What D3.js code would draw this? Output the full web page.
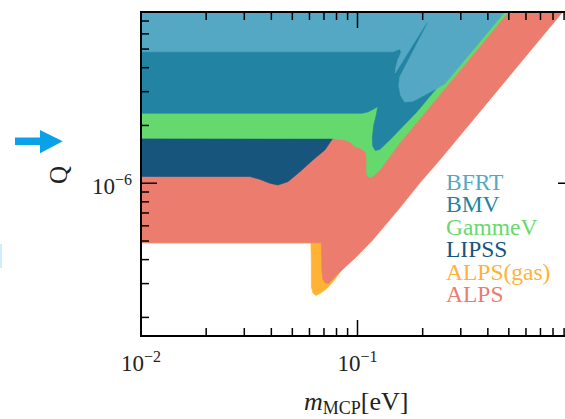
<!DOCTYPE html>
<html>
<head>
<meta charset="utf-8">
<script src="https://cdn.jsdelivr.net/npm/d3@7"></script>
<style>
  html, body { margin: 0; padding: 0; background: #fff; overflow: hidden; }
  svg { display: block; }
  text { font-family: "Liberation Serif", "Times New Roman", serif; }
</style>
</head>
<body>
<svg id="chart" width="565" height="419"></svg>
<script>
// Exclusion limits on millicharged particles: [mass in eV, charge Q in units of e]
const bfrt = [
  [0.01, 4.84e-6], [0.1455, 4.84e-6], [0.1567, 5.00e-6], [0.1593, 4.83e-6],
  [0.1535, 4.39e-6], [0.1502, 3.98e-6], [0.1494, 3.75e-6], [0.2088, 6.88e-6],
  [0.2121, 6.92e-6], [0.1567, 3.58e-6], [0.1551, 3.21e-6], [0.1585, 2.85e-6],
  [0.1653, 2.65e-6], [0.1800, 2.67e-6], [0.2045, 2.88e-6], [0.2528, 3.29e-6],
  [0.4784, 7.80e-6], [0.5731, 1.0e-5]
];
const bmv = [
  [0.01, 2.314e-6], [0.1047, 2.314e-6], [0.1116, 2.35e-6], [0.1189, 2.436e-6],
  [0.1241, 2.51e-6], [0.1221, 2.267e-6], [0.1189, 2.011e-6], [0.1170, 1.72e-6],
  [0.1176, 1.563e-6], [0.1208, 1.481e-6], [0.1267, 1.499e-6], [0.1409, 1.68e-6],
  [0.1878, 2.35e-6], [0.4576, 7.80e-6], [0.549, 1.0e-5]
];
const gammev = [
  [0.01, 1.714e-6], [0.07691, 1.71e-6], [0.08737, 1.68e-6], [0.09215, 1.645e-6],
  [0.09717, 1.554e-6], [0.10357, 1.517e-6], [0.1092, 1.455e-6], [0.1104, 1.321e-6],
  [0.1098, 1.20e-6], [0.1104, 1.11e-6], [0.1134, 1.071e-6], [0.1176, 1.084e-6],
  [0.1267, 1.172e-6], [0.1567, 1.62e-6], [0.4976, 7.80e-6], [0.598, 1.0e-5]
];
const lipss = [
  [0.01, 1.084e-6], [0.03184, 1.084e-6], [0.0354, 1.048e-6], [0.03937, 1.0e-6],
  [0.04287, 0.979e-6], [0.04769, 1.019e-6], [0.05418, 1.148e-6], [0.06222, 1.321e-6],
  [0.07066, 1.49e-6], [0.07691, 1.714e-6], [0.08465, 2.084e-6], [0.09412, 2.714e-6]
];
const alpsGas = [
  [0.01, 0.489e-6], [0.06088, 0.489e-6], [0.0612, 0.398e-6], [0.0612, 0.288e-6],
  [0.06222, 0.268e-6], [0.06421, 0.2601e-6], [0.06771, 0.268e-6], [0.07216, 0.2829e-6],
  [0.07691, 0.3057e-6], [0.08737, 0.3705e-6]
];
const alps = [
  [0.01, 0.489e-6], [0.06808, 0.489e-6], [0.06823, 0.4383e-6], [0.06843, 0.3531e-6],
  [0.06915, 0.317e-6], [0.07103, 0.3021e-6], [0.07372, 0.3003e-6], [0.07775, 0.3208e-6],
  [0.08285, 0.3447e-6], [0.09894, 0.4143e-6], [0.1176, 0.5062e-6], [0.1567, 0.7429e-6],
  [0.1939, 1.003e-6], [0.2398, 1.321e-6], [0.886, 7.80e-6], [1.061, 1.0e-5]
];

const experiments = ["BFRT", "BMV", "GammeV", "LIPSS", "ALPS(gas)", "ALPS"];
const colors = ["#54a8c3", "#2283a2", "#66d96e", "#17557d", "#ffb234", "#ec7c6d"];
const limits = [bfrt, bmv, gammev, lipss, alpsGas, alps];

const xMajor = [0.01, 0.1, 1];
const yMajor = [1e-6];
const xDomain = [0.01, 1];
const yDomain = [1.6e-7, 7.8e-6];

const svg = d3.select("#chart");
const plot = { left: 141, top: 12, right: 574, bottom: 336 };

const x = d3.scaleLog().domain(xDomain).range([plot.left, plot.right]);
const y = d3.scaleLog().domain(yDomain).range([plot.bottom, plot.top]);

svg.append("defs").append("clipPath").attr("id", "plotclip")
  .append("rect")
  .attr("x", plot.left).attr("y", plot.top)
  .attr("width", plot.right - plot.left).attr("height", plot.bottom - plot.top);

const regions = svg.append("g").attr("clip-path", "url(#plotclip)");

// each region is everything above its limit curve; closed along the top
const qCap = 1.3e-5;
const line = d3.line().x(d => x(d[0])).y(d => y(d[1]));
const drawOrder = [4, 5, 3, 2, 1, 0];
drawOrder.forEach(i => {
  const c = limits[i];
  const last = c[c.length - 1];
  const pts = c.concat([[last[0], qCap], [0.008, qCap], [0.008, c[0][1]]]);
  regions.append("path")
    .attr("d", line(pts) + "Z")
    .attr("fill", colors[i])
    .attr("stroke", colors[i])
    .attr("stroke-width", 0.6);
});

// ticks on all four sides, pointing inward
const minorOf = (lo, hi) => {
  const out = [];
  for (let e = Math.floor(Math.log10(lo)); e <= Math.ceil(Math.log10(hi)); e++) {
    for (let k = 2; k <= 9; k++) {
      const v = k * Math.pow(10, e);
      if (v > lo && v < hi) out.push(v);
    }
  }
  return out;
};
const xMinor = minorOf(xDomain[0], xDomain[1]);
const yMinor = minorOf(yDomain[0], yDomain[1]);

const axes = svg.append("g").attr("stroke", "#000").attr("stroke-width", 1.5);
const major = 16, minor = 8;
xMajor.forEach(v => {
  axes.append("line").attr("x1", x(v)).attr("x2", x(v)).attr("y1", plot.bottom).attr("y2", plot.bottom - major);
  axes.append("line").attr("x1", x(v)).attr("x2", x(v)).attr("y1", plot.top).attr("y2", plot.top + major);
});
xMinor.forEach(v => {
  axes.append("line").attr("x1", x(v)).attr("x2", x(v)).attr("y1", plot.bottom).attr("y2", plot.bottom - minor);
  axes.append("line").attr("x1", x(v)).attr("x2", x(v)).attr("y1", plot.top).attr("y2", plot.top + minor);
});
yMajor.forEach(v => {
  axes.append("line").attr("x1", plot.left).attr("x2", plot.left + major).attr("y1", y(v)).attr("y2", y(v));
  axes.append("line").attr("x1", plot.right).attr("x2", plot.right - major).attr("y1", y(v)).attr("y2", y(v));
});
yMinor.forEach(v => {
  axes.append("line").attr("x1", plot.left).attr("x2", plot.left + minor).attr("y1", y(v)).attr("y2", y(v));
  axes.append("line").attr("x1", plot.right).attr("x2", plot.right - minor).attr("y1", y(v)).attr("y2", y(v));
});
svg.append("rect")
  .attr("x", plot.left).attr("y", plot.top)
  .attr("width", plot.right - plot.left).attr("height", plot.bottom - plot.top)
  .attr("fill", "none").attr("stroke", "#000").attr("stroke-width", 2);

// tick labels as powers of ten
const expOf = v => Math.round(Math.log10(v));
function powerLabel(sel, v) {
  sel.append("tspan").text("10");
  sel.append("tspan").attr("dy", -9).attr("font-size", 16).text("\u2212" + Math.abs(expOf(v)));
}
xMajor.filter(v => x(v) < 565).forEach(v => {
  const t = svg.append("text").attr("x", x(v)).attr("y", 371)
    .attr("text-anchor", "middle").attr("font-size", 23).attr("fill", "#222");
  powerLabel(t, v);
});
yMajor.forEach(v => {
  const t = svg.append("text").attr("x", plot.left - 9).attr("y", y(v) + 11)
    .attr("text-anchor", "end").attr("font-size", 23).attr("fill", "#222");
  powerLabel(t, v);
});

// axis titles
const xt = svg.append("text").attr("x", 304).attr("y", 410).attr("font-size", 26).attr("fill", "#222");
xt.append("tspan").attr("font-style", "italic").text("m");
xt.append("tspan").attr("font-size", 18).attr("dy", 4).text("MCP");
xt.append("tspan").attr("dy", -4).text("[eV]");

svg.append("text")
  .attr("transform", "translate(67,175) rotate(-90)")
  .attr("text-anchor", "middle").attr("font-size", 25).attr("fill", "#222")
  .text("Q");

// legend
experiments.forEach((name, i) => {
  svg.append("text")
    .attr("x", 446).attr("y", 190 + i * 22.4)
    .attr("font-size", 23.5).attr("fill", colors[i])
    .text(name);
});

// marker arrow beside the axis title
svg.append("path")
  .attr("d", "M15,137.5 L40,137.5 L40,130 L62.7,141.2 L40,153.3 L40,145 L15,145 Z")
  .attr("fill", "#0aa1e8");
svg.append("rect").attr("x", 0).attr("y", 244).attr("width", 2).attr("height", 24).attr("fill", "#cdeefa");
</script>
</body>
</html>
